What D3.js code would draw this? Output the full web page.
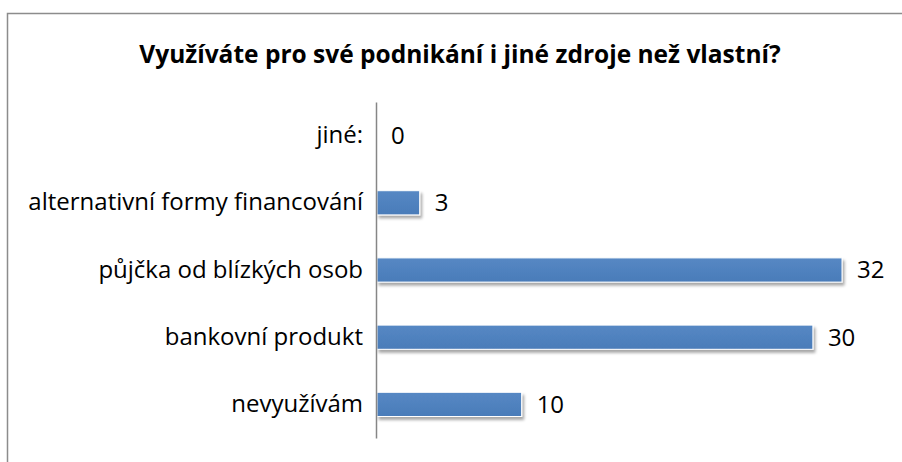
<!DOCTYPE html>
<html>
<head>
<meta charset="utf-8">
<script src="https://cdn.jsdelivr.net/npm/d3@7"></script>
<style>
  body { margin: 0; background: #fff; }
  svg { display: block; font-family: "Open Sans", sans-serif; }
</style>
</head>
<body>
<svg id="chart" width="902" height="462"></svg>
<script>
var categories = ['jiné:', 'alternativní formy financování', 'půjčka od blízkých osob', 'bankovní produkt', 'nevyužívám'];
var values = [0, 3, 32, 30, 10];
var title = 'Využíváte pro své podnikání i jiné zdroje než vlastní?';

var width = 902, height = 462;
var plot = { left: 376, top: 102, bottom: 438 };
var font = '"Open Sans", sans-serif';

var svg = d3.select('#chart');

var defs = svg.append('defs');
var grad = defs.append('linearGradient')
	.attr('id', 'barGrad')
	.attr('x1', 0).attr('y1', 0).attr('x2', 0).attr('y2', 1);
grad.append('stop').attr('offset', '0%').attr('stop-color', '#5688c4');
grad.append('stop').attr('offset', '100%').attr('stop-color', '#4a7cb9');

var shadow = defs.append('filter')
	.attr('id', 'shadow')
	.attr('x', '-10%').attr('y', '-30%')
	.attr('width', '130%').attr('height', '180%');
shadow.append('feGaussianBlur').attr('in', 'SourceAlpha').attr('stdDeviation', 1.6);
shadow.append('feOffset').attr('dx', 1.5).attr('dy', 3).attr('result', 'off');
shadow.append('feComponentTransfer').append('feFuncA').attr('type', 'linear').attr('slope', 0.35);
var merge = shadow.append('feMerge');
merge.append('feMergeNode');
merge.append('feMergeNode').attr('in', 'SourceGraphic');

// chart frame (right and bottom edges fall outside the picture)
svg.append('rect')
	.attr('x', 7.5).attr('y', 13.5)
	.attr('width', width + 20).attr('height', height + 20)
	.attr('fill', 'none')
	.attr('stroke', '#8c8c8c')
	.attr('stroke-width', 1.5);

svg.append('text')
	.attr('x', 460)
	.attr('y', 63)
	.attr('text-anchor', 'middle')
	.attr('font-family', font)
	.attr('font-weight', 'bold')
	.attr('font-size', '24.5px')
	.attr('fill', '#000')
	.text(title);

var x = d3.scaleLinear()
	.domain([0, 32])
	.range([plot.left, 842]);

var y = d3.scaleBand()
	.domain(categories)
	.range([plot.top, plot.bottom])
	.paddingInner(0.64)
	.paddingOuter(0.32);

svg.append('g')
	.selectAll('rect')
	.data(values)
	.enter().append('rect')
	.attr('x', x(0) + 1)
	.attr('y', function(d, i) { return y(categories[i]); })
	.attr('width', function(d) { return Math.max(0, x(d) - x(0) - 1); })
	.attr('height', y.bandwidth())
	.attr('fill', 'url(#barGrad)')
	.attr('stroke', '#fff')
	.attr('stroke-width', 1)
	.attr('filter', 'url(#shadow)')
	.style('display', function(d) { return d > 0 ? null : 'none'; });

var yAxis = svg.append('g')
	.attr('transform', 'translate(' + plot.left + ',0)')
	.call(d3.axisLeft(y).tickSize(0).tickPadding(13));
yAxis.attr('font-family', font).attr('font-size', 24);
yAxis.select('.domain').attr('stroke', '#868686').attr('stroke-width', 1.5);
yAxis.selectAll('text').attr('fill', '#000');

svg.append('g')
	.selectAll('text')
	.data(values)
	.enter().append('text')
	.attr('x', function(d) { return x(d) + 15; })
	.attr('y', function(d, i) { return y(categories[i]) + y.bandwidth() / 2; })
	.attr('dy', '0.35em')
	.attr('font-family', font)
	.attr('font-size', '24px')
	.attr('fill', '#000')
	.text(function(d) { return d; });
</script>
</body>
</html>
